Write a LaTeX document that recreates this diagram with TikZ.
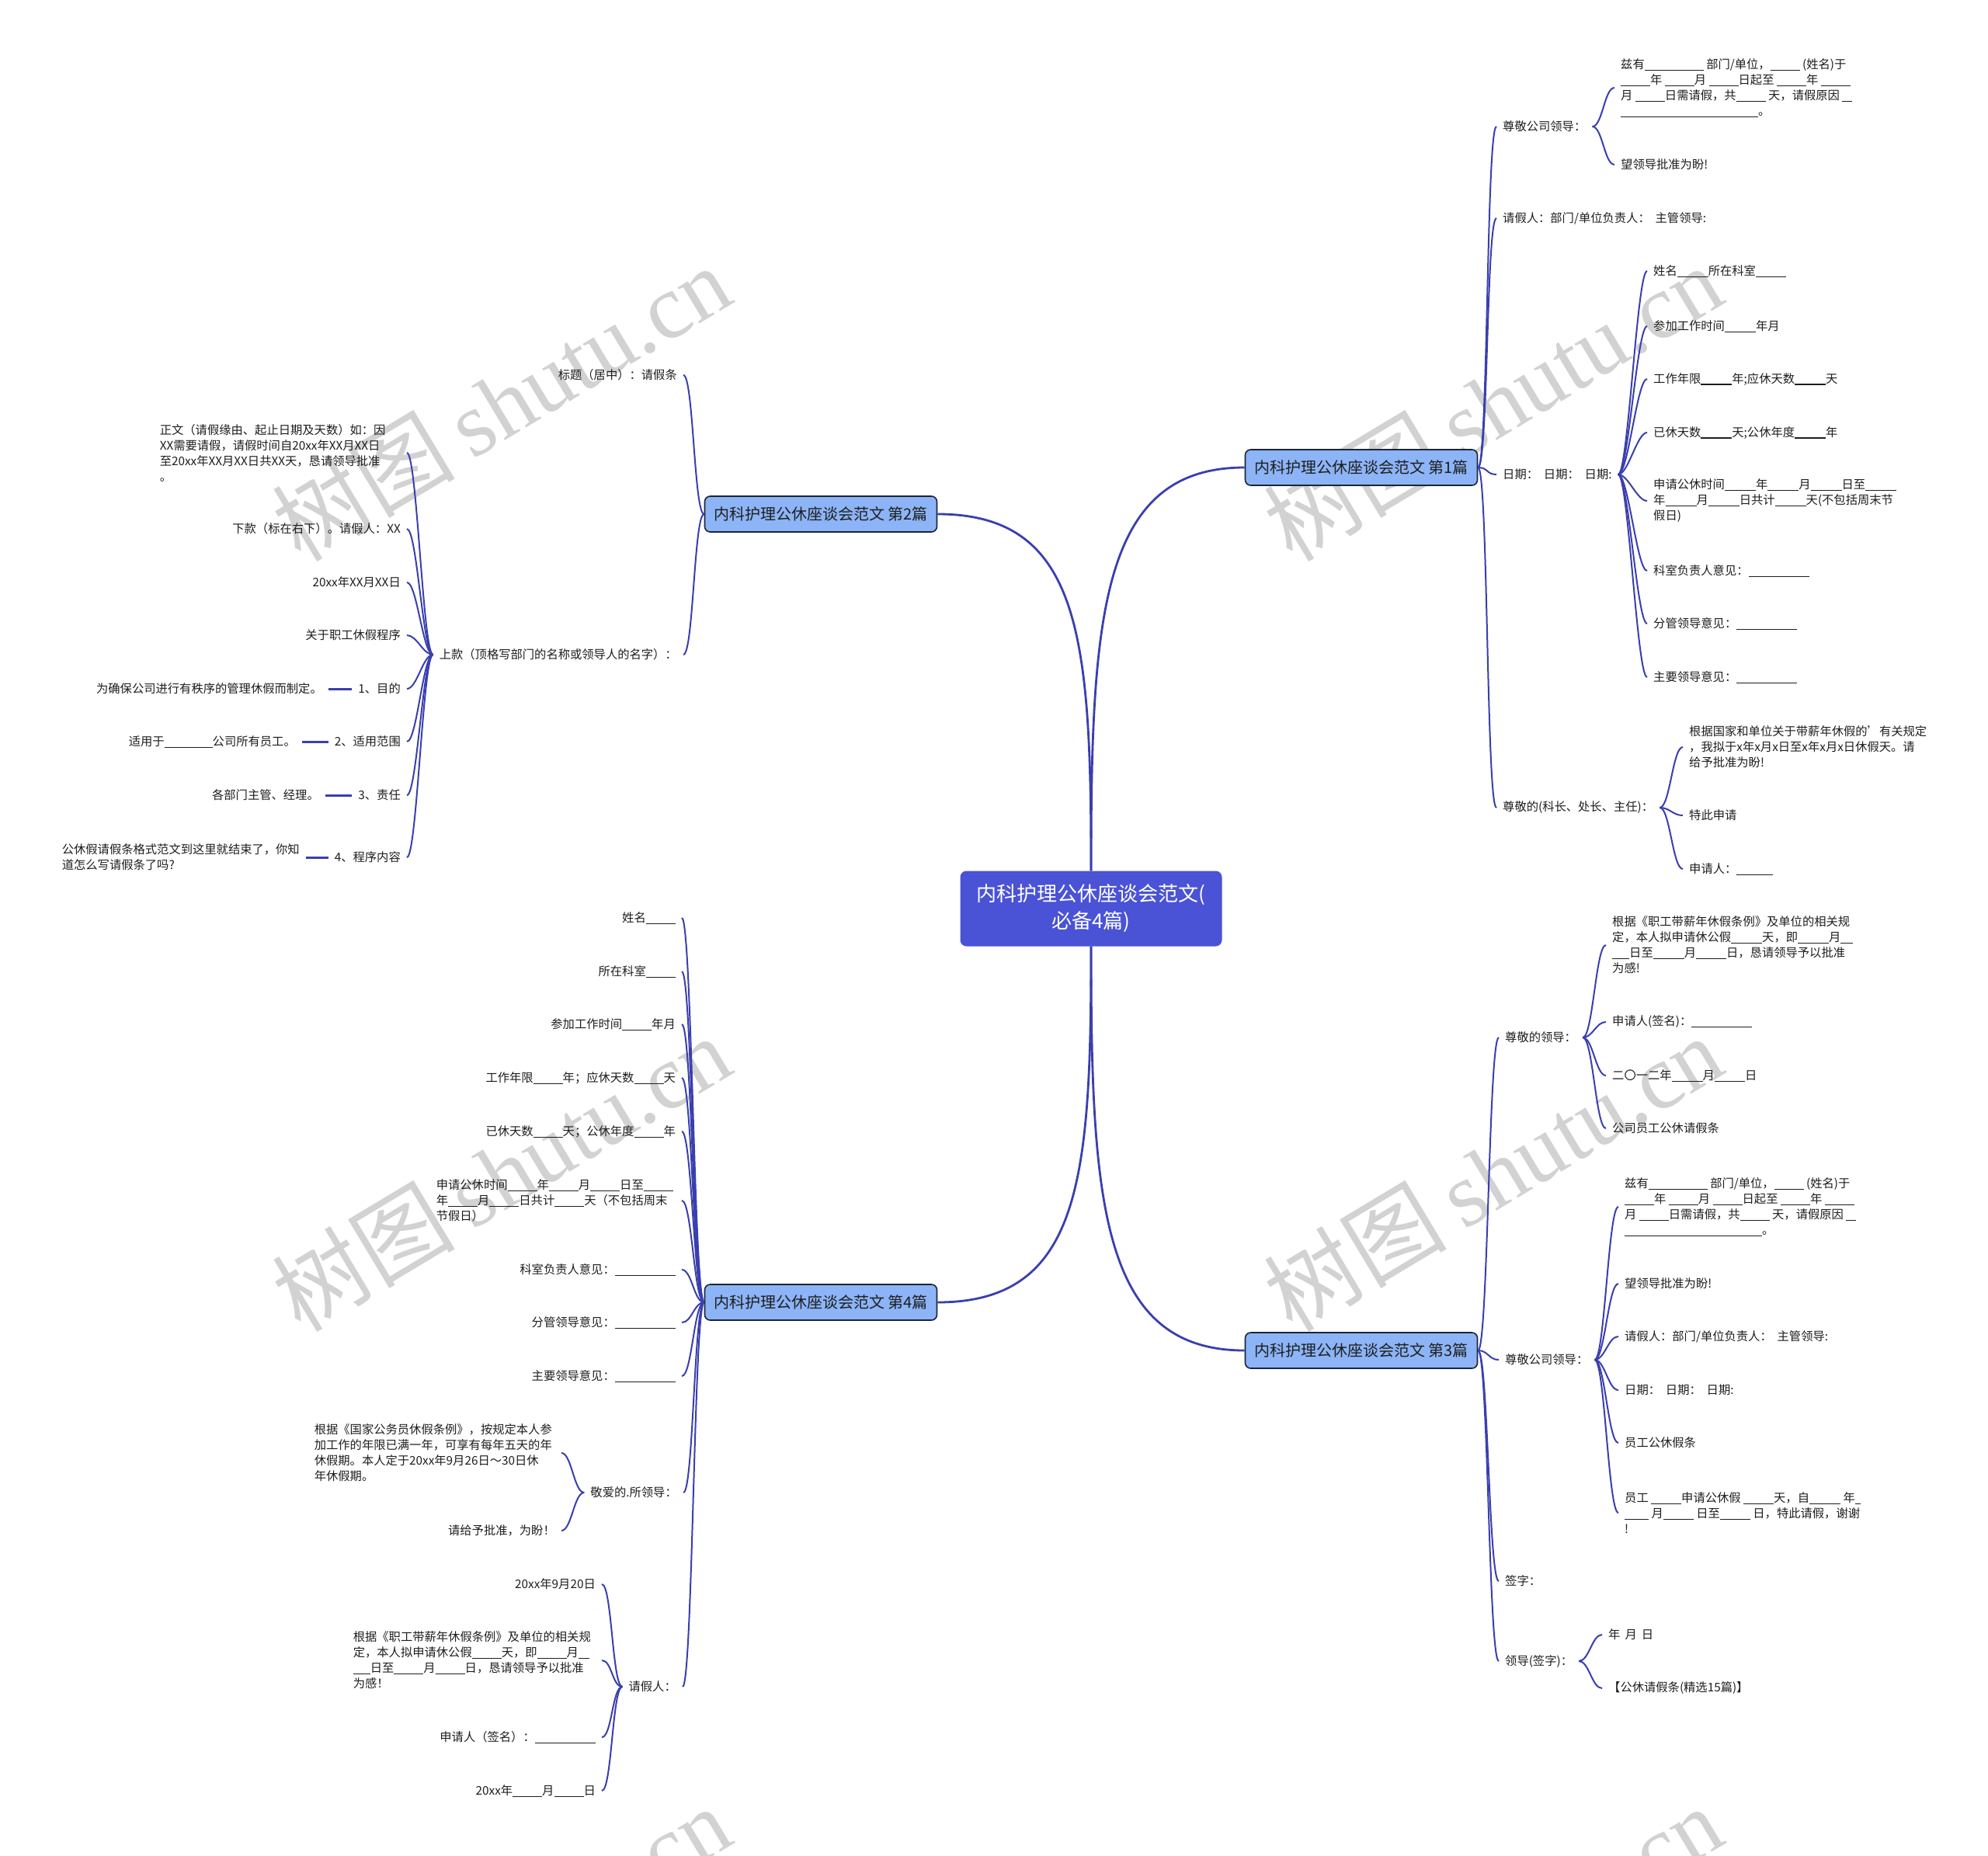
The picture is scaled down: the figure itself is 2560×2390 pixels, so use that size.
\documentclass[tikz,border=0pt]{standalone}
\usepackage{fontspec}
\setmainfont{Noto Sans CJK SC}
\newfontfamily\wmfont{Liberation Serif}
\definecolor{lc}{HTML}{3A3FAE}
\definecolor{cfill}{HTML}{4A53D5}
\definecolor{bfill}{HTML}{8CB4F6}
\definecolor{bdraw}{HTML}{1D2535}
\definecolor{tc}{HTML}{1E1E1E}
\definecolor{wm}{HTML}{D2D2D2}
\newcommand\bl[1]{\rule[-2.5pt]{#1pt}{1.1pt}}
\newcommand\myrc[2]{\draw[conn] (#1.east) .. controls +(13,0) and +(-13,0) .. (#2.west);}
\newcommand\mylc[2]{\draw[conn] (#1.west) .. controls +(-13,0) and +(13,0) .. (#2.east);}
\begin{document}
\begin{tikzpicture}[x=1pt,y=-1pt,
  conn/.style={draw=lc,line width=2pt},
  mainconn/.style={draw=lc,line width=2.8pt},
  leaf/.style={inner xsep=8pt,inner ysep=2pt,text=tc,font=\fontsize{15.3}{20}\selectfont,align=left},
  lleaf/.style={leaf,anchor=east},
  rleaf/.style={leaf,anchor=west},
  branchbox/.style={draw=bdraw,line width=1.6pt,fill=bfill,rounded corners=7pt,minimum width=299pt,minimum height=46pt,inner sep=0pt,text=tc,font=\fontsize{20}{24}\selectfont},
  centerbox/.style={fill=cfill,rounded corners=8pt,minimum width=337pt,minimum height=97pt,text=white,align=center,font=\fontsize{26}{35}\selectfont,inner sep=0pt},
  wmark/.style={text=wm,rotate=31,font=\fontsize{118}{118}\selectfont,inner sep=0pt}
]
\useasboundingbox (0,0) rectangle (2560,2390);
\fill[white] (0,0) rectangle (2560,2390);

% watermarks
\begin{scope}
\clip (0,0) rectangle (2560,2390);
\node[wmark] (wm1) at (645,518) {树图\hspace{22pt}{\wmfont shutu.cn}};
\node[wmark] (wm2) at (1922,518) {树图\hspace{22pt}{\wmfont shutu.cn}};
\node[wmark] (wm3) at (645,1510) {树图\hspace{22pt}{\wmfont shutu.cn}};
\node[wmark] (wm4) at (1922,1510) {树图\hspace{22pt}{\wmfont shutu.cn}};
\node[wmark] (wm5) at (645,2502) {树图\hspace{22pt}{\wmfont shutu.cn}};
\node[wmark] (wm6) at (1922,2502) {树图\hspace{22pt}{\wmfont shutu.cn}};
\end{scope}

% center and branches
\node[centerbox] (c) at (1405,1170) {内科护理公休座谈会范文(\\必备4篇)};
\node[branchbox] (B1) at (1753,602) {内科护理公休座谈会范文 第1篇};
\node[branchbox] (B2) at (1057,662) {内科护理公休座谈会范文 第2篇};
\node[branchbox] (B3) at (1753,1739) {内科护理公休座谈会范文 第3篇};
\node[branchbox] (B4) at (1057,1677) {内科护理公休座谈会范文 第4篇};

\draw[mainconn] (c.north) .. controls +(0,-330) and +(-185,0) .. (B1.west);
\draw[mainconn] (c.north) .. controls +(0,-300) and +(185,0) .. (B2.east);
\draw[mainconn] (c.south) .. controls +(0,330) and +(-185,0) .. (B3.west);
\draw[mainconn] (c.south) .. controls +(0,300) and +(185,0) .. (B4.east);

% ---------- branch 1 ----------
\node[rleaf] (b1a) at (1927,163) {尊敬公司领导：};
\node[rleaf] (b1b) at (1927,281) {请假人：部门/单位负责人：\ \ 主管领导:};
\node[rleaf] (b1c) at (1927,611) {日期：\ \ 日期：\ \ 日期:};
\node[rleaf] (b1d) at (1927,1040) {尊敬的(科长、处长、主任)：};
\myrc{B1}{b1a}\myrc{B1}{b1b}\myrc{B1}{b1c}\myrc{B1}{b1d}

\node[rleaf] (b1a1) at (2079,113) {兹有\bl{76} 部门/单位，\bl{38} (姓名)于\\\bl{38}年 \bl{38}月 \bl{38}日起至 \bl{38}年 \bl{38}\\月 \bl{38}日需请假，共\bl{38} 天，请假原因 \bl{13}\\\bl{177}。};
\node[rleaf] (b1a2) at (2079,212) {望领导批准为盼!};
\myrc{b1a}{b1a1}\myrc{b1a}{b1a2}

\node[rleaf] (b1c1) at (2121,349) {姓名\bl{40}所在科室\bl{39}};
\node[rleaf] (b1c2) at (2121,420) {参加工作时间\bl{40}年月};
\node[rleaf] (b1c3) at (2121,488) {工作年限\bl{40}年;应休天数\bl{40}天};
\node[rleaf] (b1c4) at (2121,557) {已休天数\bl{40}天;公休年度\bl{40}年};
\node[rleaf] (b1c5) at (2121,645) {申请公休时间\bl{40}年\bl{40}月\bl{40}日至\bl{40}\\年\bl{40}月\bl{40}日共计\bl{40}天(不包括周末节\\假日)};
\node[rleaf] (b1c6) at (2121,735) {科室负责人意见：\bl{78}};
\node[rleaf] (b1c7) at (2121,803) {分管领导意见：\bl{78}};
\node[rleaf] (b1c8) at (2121,872) {主要领导意见：\bl{78}};
\foreach \k in {1,...,8}{\myrc{b1c}{b1c\k}}

\node[rleaf] (b1d1) at (2167,962) {根据国家和单位关于带薪年休假的'有关规定\\，我拟于x年x月x日至x年x月x日休假天。请\\给予批准为盼!};
\node[rleaf] (b1d2) at (2167,1050) {特此申请};
\node[rleaf] (b1d3) at (2167,1119) {申请人：\bl{47}};
\myrc{b1d}{b1d1}\myrc{b1d}{b1d2}\myrc{b1d}{b1d3}

% ---------- branch 3 ----------
\node[rleaf] (b3a) at (1930,1336) {尊敬的领导：};
\node[rleaf] (b3b) at (1930,1751) {尊敬公司领导：};
\node[rleaf] (b3c) at (1930,2036) {签字：};
\node[rleaf] (b3d) at (1930,2139) {领导(签字)：};
\myrc{B3}{b3a}\myrc{B3}{b3b}\myrc{B3}{b3c}\myrc{B3}{b3d}

\node[rleaf] (b3a1) at (2068,1217) {根据《职工带薪年休假条例》及单位的相关规\\定，本人拟申请休公假\bl{40}天，即\bl{40}月\bl{16}\\\bl{22}日至\bl{40}月\bl{39}日，恳请领导予以批准\\为感!};
\node[rleaf] (b3a2) at (2068,1316) {申请人(签名)：\bl{78}};
\node[rleaf] (b3a3) at (2068,1385) {二〇一二年\bl{40}月\bl{39}日};
\node[rleaf] (b3a4) at (2068,1453) {公司员工公休请假条};
\foreach \k in {1,...,4}{\myrc{b3a}{b3a\k}}

\node[rleaf] (b3b1) at (2084,1554) {兹有\bl{76} 部门/单位，\bl{38} (姓名)于\\\bl{38}年 \bl{38}月 \bl{38}日起至 \bl{38}年 \bl{38}\\月 \bl{38}日需请假，共\bl{38} 天，请假原因 \bl{13}\\\bl{177}。};
\node[rleaf] (b3b2) at (2084,1653) {望领导批准为盼!};
\node[rleaf] (b3b3) at (2084,1721) {请假人：部门/单位负责人：\ \ 主管领导:};
\node[rleaf] (b3b4) at (2084,1790) {日期：\ \ 日期：\ \ 日期:};
\node[rleaf] (b3b5) at (2084,1858) {员工公休假条};
\node[rleaf] (b3b6) at (2084,1948) {员工 \bl{39}申请公休假 \bl{39}天，自\bl{40} 年\bl{7}\\\bl{31} 月\bl{39} 日至\bl{39} 日，特此请假，谢谢\\!};
\foreach \k in {1,...,6}{\myrc{b3b}{b3b\k}}

\node[rleaf] (b3d1) at (2063,2105) {年\hspace{6pt}月\hspace{6pt}日};
\node[rleaf] (b3d2) at (2063,2174) {【公休请假条(精选15篇)】};
\myrc{b3d}{b3d1}\myrc{b3d}{b3d2}

% ---------- branch 2 ----------
\node[lleaf] (b2a) at (880,483) {标题（居中）：请假条};
\node[lleaf] (b2b) at (880,843) {上款（顶格写部门的名称或领导人的名字）：};
\mylc{B2}{b2a}\mylc{B2}{b2b}

\node[lleaf,text width=310pt] (b2b1) at (524,583) {正文（请假缘由、起止日期及天数）如：因\\XX需要请假，请假时间自20xx年XX月XX日\\至20xx年XX月XX日共XX天，恳请领导批准\\。};
\node[lleaf] (b2b2) at (524,681) {下款（标在右下）。请假人：XX};
\node[lleaf] (b2b3) at (524,750) {20xx年XX月XX日};
\node[lleaf] (b2b4) at (524,818) {关于职工休假程序};
\node[lleaf] (b2b5) at (524,887) {1、目的};
\node[lleaf] (b2b6) at (524,955) {2、适用范围};
\node[lleaf] (b2b7) at (524,1024) {3、责任};
\node[lleaf] (b2b8) at (524,1104) {4、程序内容};
\foreach \k in {1,...,8}{\mylc{b2b}{b2b\k}}

\node[lleaf] (b2b5a) at (423,887) {为确保公司进行有秩序的管理休假而制定。};
\node[lleaf] (b2b6a) at (389,955) {适用于\bl{62}公司所有员工。};
\node[lleaf] (b2b7a) at (419,1024) {各部门主管、经理。};
\node[lleaf] (b2b8a) at (394,1104) {公休假请假条格式范文到这里就结束了，你知\\道怎么写请假条了吗?};
\draw[draw=lc,line width=3pt] (b2b5.west) -- (b2b5a.east);
\draw[draw=lc,line width=3pt] (b2b6.west) -- (b2b6a.east);
\draw[draw=lc,line width=3pt] (b2b7.west) -- (b2b7a.east);
\draw[draw=lc,line width=3pt] (b2b8.west) -- (b2b8a.east);

% ---------- branch 4 ----------
\node[lleaf] (b41) at (878,1182) {姓名\bl{38}};
\node[lleaf] (b42) at (878,1251) {所在科室\bl{38}};
\node[lleaf] (b43) at (878,1319) {参加工作时间\bl{38}年月};
\node[lleaf] (b44) at (878,1388) {工作年限\bl{38}年；应休天数\bl{38}天};
\node[lleaf] (b45) at (878,1457) {已休天数\bl{38}天；公休年度\bl{38}年};
\node[lleaf,text width=308pt] (b46) at (878,1546) {申请公休时间\bl{38}年\bl{38}月\bl{38}日至\bl{38}\\年\bl{38}月\bl{38}日共计\bl{38}天（不包括周末\\节假日）};
\node[lleaf] (b47) at (878,1635) {科室负责人意见：\bl{78}};
\node[lleaf] (b48) at (878,1703) {分管领导意见：\bl{78}};
\node[lleaf] (b49) at (878,1772) {主要领导意见：\bl{78}};
\node[lleaf] (b4e) at (880,1922) {敬爱的.所领导：};
\node[lleaf] (b4f) at (879,2172) {请假人：};
\foreach \k in {1,...,9}{\mylc{B4}{b4\k}}
\mylc{B4}{b4e}\mylc{B4}{b4f}

\node[lleaf,text width=310pt] (b4e1) at (723,1871) {根据《国家公务员休假条例》，按规定本人参\\加工作的年限已满一年，可享有每年五天的年\\休假期。本人定于20xx年9月26日～30日休\\年休假期。};
\node[lleaf] (b4e2) at (723,1971) {请给予批准，为盼！};
\mylc{b4e}{b4e1}\mylc{b4e}{b4e2}

\node[lleaf] (b4f1) at (775,2040) {20xx年9月20日};
\node[lleaf,text width=312pt] (b4f2) at (775,2138) {根据《职工带薪年休假条例》及单位的相关规\\定，本人拟申请休公假\bl{38}天，即\bl{38}月\bl{14}\\\bl{22}日至\bl{38}月\bl{38}日，恳请领导予以批准\\为感！};
\node[lleaf] (b4f3) at (775,2237) {申请人（签名）：\bl{78}};
\node[lleaf] (b4f4) at (775,2306) {20xx年\bl{38}月\bl{38}日};
\foreach \k in {1,...,4}{\mylc{b4f}{b4f\k}}
\end{tikzpicture}
\end{document}
